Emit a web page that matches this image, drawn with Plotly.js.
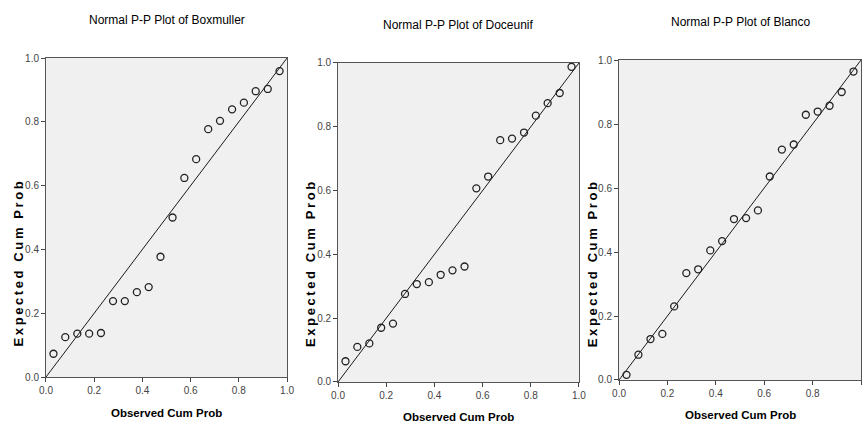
<!DOCTYPE html>
<html>
<head>
<meta charset="utf-8">
<script src="https://cdn.plot.ly/plotly-3.0.1.min.js"></script>
<style>html,body{margin:0;padding:0;background:#fff;}#chart{width:863px;height:425px;}</style>
</head>
<body>
<div id="chart"></div>
<script>
// Observed cumulative probabilities (same for all three plots)
const observed = [0.031, 0.080, 0.130, 0.179, 0.228, 0.278, 0.327, 0.377, 0.426, 0.475,
                  0.525, 0.574, 0.623, 0.673, 0.722, 0.772, 0.821, 0.870, 0.920, 0.969];
// Expected cumulative probabilities per variable
const boxmuller = [0.073, 0.125, 0.136, 0.136, 0.138, 0.238, 0.238, 0.266, 0.282, 0.377,
                   0.500, 0.624, 0.683, 0.777, 0.803, 0.839, 0.860, 0.896, 0.903, 0.959];
const doceunif  = [0.065, 0.110, 0.121, 0.170, 0.183, 0.276, 0.307, 0.313, 0.336, 0.350,
                   0.362, 0.607, 0.644, 0.758, 0.763, 0.782, 0.835, 0.874, 0.906, 0.988];
const blanco    = [0.016, 0.079, 0.128, 0.144, 0.230, 0.334, 0.346, 0.405, 0.434, 0.503,
                   0.506, 0.530, 0.636, 0.720, 0.736, 0.829, 0.839, 0.857, 0.900, 0.964];
const refLine = [0, 1];
const titles = ["Normal P-P Plot of Boxmuller", "Normal P-P Plot of Doceunif", "Normal P-P Plot of Blanco"];
const tickVals = [0, 0.2, 0.4, 0.6, 0.8, 1.0];
const tickText = ["0.0", "0.2", "0.4", "0.6", "0.8", "1.0"];
const xLabel = "Observed Cum Prob";
const yLabel = "Expected Cum Prob";

const series = [boxmuller, doceunif, blanco];
const narrow = "Liberation Sans Narrow, Arial Narrow, Liberation Sans, sans-serif";
const boldFont = "Liberation Sans, Arial, sans-serif";

const xDomains = [[0.0533, 0.3326], [0.3917, 0.6709], [0.7173, 0.9977]];
const yDomains = [[0.1129, 0.8635], [0.1012, 0.8518], [0.1059, 0.8588]];
const titleY = [0.953, 0.941, 0.948];
const yTitleX = [0.021, 0.359, 0.686];
const yTitleY = [0.383, 0.381, 0.381];
const xTitleY = [0.028, 0.018, 0.023];

const traces = [];
const layout = {
  width: 863, height: 425,
  margin: {l: 0, r: 0, t: 0, b: 0},
  paper_bgcolor: "#ffffff",
  plot_bgcolor: "#f0f0f0",
  showlegend: false,
  annotations: [],
  font: {family: narrow}
};

series.forEach((vals, i) => {
  const sfx = i === 0 ? "" : String(i + 1);
  traces.push({
    x: refLine, y: refLine, type: "scatter", mode: "lines",
    xaxis: "x" + sfx, yaxis: "y" + sfx,
    line: {color: "#1a1a1a", width: 1}, hoverinfo: "skip"
  });
  traces.push({
    x: observed, y: vals, type: "scatter", mode: "markers",
    xaxis: "x" + sfx, yaxis: "y" + sfx,
    marker: {symbol: "circle-open", size: 7, color: "#222", line: {width: 1.3, color: "#222"}}
  });
  const axBase = {
    range: [0, 1], tickvals: tickVals, ticktext: tickText,
    ticks: "outside", ticklen: 4, tickcolor: "#444", tickwidth: 1,
    showgrid: false, zeroline: false,
    showline: true, mirror: true, linecolor: "#555", linewidth: 1,
    tickfont: {family: narrow, size: 10, color: "#444"},
    fixedrange: true
  };
  layout["xaxis" + sfx] = Object.assign({}, axBase, {domain: xDomains[i], anchor: "y" + sfx});
  layout["yaxis" + sfx] = Object.assign({}, axBase, {domain: yDomains[i], anchor: "x" + sfx});
  layout.annotations.push({
    text: titles[i], xref: "paper", yref: "paper",
    x: (xDomains[i][0] + xDomains[i][1]) / 2, y: titleY[i],
    xanchor: "center", yanchor: "middle", showarrow: false,
    font: {family: narrow, size: 12, color: "#000"}
  });
  layout.annotations.push({
    text: "<b>" + xLabel + "</b>", xref: "paper", yref: "paper",
    x: (xDomains[i][0] + xDomains[i][1]) / 2, y: xTitleY[i],
    xanchor: "center", yanchor: "middle", showarrow: false,
    font: {family: boldFont, size: 11.5, color: "#000"}
  });
  layout.annotations.push({
    text: "<b>" + yLabel + "</b>", xref: "paper", yref: "paper",
    x: yTitleX[i], y: yTitleY[i],
    xanchor: "center", yanchor: "middle", showarrow: false, textangle: -90,
    font: {family: boldFont, size: 13, color: "#000"}
  });
});

Plotly.newPlot("chart", traces, layout, {displayModeBar: false, staticPlot: true}).then(() => {
  // the reference's vertical axis titles are stretched along their length
  document.querySelectorAll("#chart .annotation-text").forEach(t => {
    if (t.textContent.indexOf(yLabel) >= 0) {
      t.style.letterSpacing = "2.6px";
    }
  });
});
</script>
</body>
</html>
